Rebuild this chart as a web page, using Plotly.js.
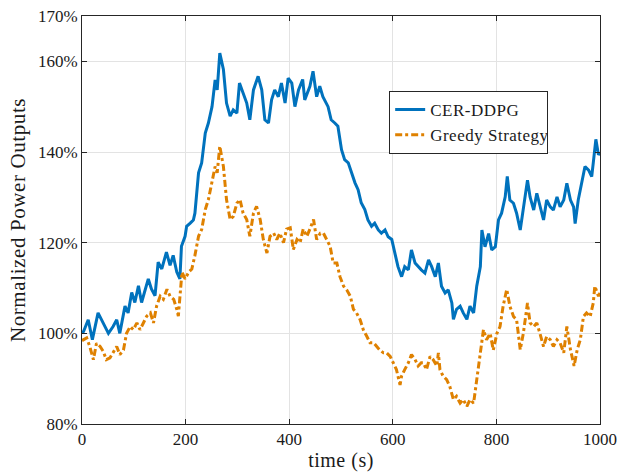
<!DOCTYPE html>
<html>
<head>
<meta charset="utf-8">
<script src="https://cdn.plot.ly/plotly-3.0.1.min.js"></script>
<style>
  html, body { margin: 0; padding: 0; background: #ffffff; }
  #chart { width: 620px; height: 474px; }
  #chart .ytitle { letter-spacing: 0.6px; }
  #chart .xtitle { letter-spacing: 0.5px; }
  #chart .legendtext { letter-spacing: 0.5px; }
</style>
</head>
<body>
<div id="chart"></div>
<script>
// Normalized power output (%) over time (s) for two control strategies.
const timeCer = [0,3,12,20,31,41,51,60,67,73,83,89,96,102,109,115,121,128,134,141,147,154,163,170,176,183,189,192,199,202,209,215,218,225,231,238,244,251,257,261,266,273,279,286,292,299,304,311,318,324,331,340,347,353,360,366,372,379,385,392,398,405,411,418,426,430,440,446,453,459,465,475,481,488,494,501,507,514,520,527,533,539,546,552,559,565,572,578,585,591,598,604,610,617,623,630,636,643,649,655,662,669,675,682,688,694,701,707,714,717,723,730,736,743,749,756,762,769,772,778,785,791,798,804,810,817,821,826,833,839,846,852,860,865,872,878,884,891,897,904,910,917,923,930,936,943,949,952,958,965,971,978,984,987,992,997,1000];
const cerDdpg = [100.2,100.4,103,98.6,104.5,102.3,100,101.5,103,100,106,104.5,109,106.8,110.5,106.8,109,112,109.8,108.3,115.7,114.2,117.9,115,117.2,113.5,112,119.2,121.4,123.6,124.3,125,126.5,135.4,137.6,144.2,146.4,150,155.9,153.7,161.8,158.2,150.8,147.9,149.3,148.6,155.2,153,150.8,147.1,153.7,156.7,153.7,147.1,146.4,151.5,153.7,152.2,155.2,150.8,156.3,155.2,150,153.7,156,151.5,154.5,157.8,152.2,154.5,152.2,150,147.1,146.4,145.7,140.5,138.3,137.6,135.4,133.2,131.7,128.8,127.3,125,123.6,124.3,122.8,122.1,122.8,121.3,120.7,117.7,114.7,112.5,114.7,114,118.4,115.5,114.7,114,113.3,116.2,114.7,112.5,115.5,110.4,108.9,109.6,106.7,103.1,105.3,106,104.5,103.1,106,104.5,110.4,114.7,122.8,119.1,122,118.4,119.1,125,126.5,130.1,134.6,129.4,128.7,126.5,122.8,127.9,133.8,130.1,127.2,130.9,127.9,125,129.4,127.9,127.2,130.1,127.9,129.4,133.1,129.4,127.9,124.2,129.4,133.8,136.8,136,134.6,137.6,142.8,139.4,139.8];

const timeGreedy = [0,3,9,15,22,28,35,41,47,54,60,67,73,80,86,93,99,106,112,119,125,132,138,144,151,157,164,170,177,183,186,193,199,206,212,218,225,231,238,244,251,257,261,266,273,279,286,292,299,305,311,318,324,331,337,344,350,357,363,370,376,382,389,395,402,408,415,421,427,434,440,447,453,460,466,472,479,485,492,498,505,511,518,524,530,537,543,550,556,563,569,575,582,588,595,601,607,614,617,623,630,636,643,649,655,659,665,672,678,685,688,691,697,704,710,717,723,730,736,743,749,756,762,769,775,781,788,794,801,807,813,820,826,833,839,846,852,860,865,872,878,884,891,897,904,910,917,923,930,936,943,950,956,962,968,974,981,987,990,997,1000];
const greedy = [98.4,98.6,99,97.1,94.2,97.8,97.1,96,94.2,94.6,95.7,97.1,95.3,96.3,100,101.5,100.8,102.3,100.8,102.3,103.8,104.5,102.3,106,108.2,107.5,109.7,108.2,107.5,105.3,103.8,113.5,112,113.5,114.2,117.2,121.4,122.9,127.3,129.5,133.2,136.8,135.4,141.3,136.8,129.5,125.1,125.8,128.7,129.5,126.5,125.1,121.4,126.5,128,125.1,120.7,117.7,121.4,122.1,120.7,122.1,120,123,123.3,118.5,120.7,120,123,121.4,123,125.1,120.7,122.1,122.1,120.7,119.2,115.5,115.5,112.5,110.4,109.6,108.2,105.3,104.5,103,100.8,99.3,97.9,97.9,97.1,96.3,95.7,95.7,94.9,93.5,92,88.6,90.6,92,93.5,95.3,94.2,92.8,93.5,93.5,92,94.9,94.2,92.8,95.7,92,90.6,89.8,88.3,85.4,86.1,84.6,85.4,83.9,85.4,84.6,89.8,95.7,100.8,98.6,100,96.3,100,101.5,106,109.7,106,103.7,103,96.4,100,106.7,102.3,101.5,102.3,100,97.1,99.3,98.6,97.1,98.6,97.9,95.7,101.5,96.4,92.8,96.4,98.6,103.7,104.5,103.7,106.7,110.4,108.2,108.9];

const seriesNames = ['CER-DDPG', 'Greedy Strategy'];
const xTicks = [0, 200, 400, 600, 800, 1000];
const yTicks = [80, 100, 120, 140, 160, 170];

const serif = "'Liberation Serif', 'Times New Roman', serif";
const ink = '#1a1a1a';

const traces = [
  {
    x: timeCer, y: cerDdpg, name: seriesNames[0],
    type: 'scatter', mode: 'lines',
    line: { color: '#0072BD', width: 3 }
  },
  {
    x: timeGreedy, y: greedy, name: seriesNames[1],
    type: 'scatter', mode: 'lines',
    line: { color: '#DF8100', width: 3, dash: '7px,3px,3px,3px' }
  }
];

const axisCommon = {
  showline: true, linecolor: '#262626', linewidth: 1,
  mirror: 'ticks', ticks: 'inside', ticklen: 5, tickcolor: '#262626',
  showgrid: true, gridcolor: '#e3e3e3', gridwidth: 1,
  zeroline: false,
  tickfont: { family: serif, size: 17, color: ink }
};

const layout = {
  width: 620, height: 474,
  margin: { l: 82, r: 20, t: 16, b: 50 },
  paper_bgcolor: '#ffffff', plot_bgcolor: '#ffffff',
  font: { family: serif, color: ink },
  showlegend: true,
  legend: {
    x: 0.593, y: 0.816, xanchor: 'left', yanchor: 'top',
    bgcolor: '#ffffff', bordercolor: '#262626', borderwidth: 1,
    font: { family: serif, size: 17, color: ink },
    tracegroupgap: 0
  },
  xaxis: Object.assign({}, axisCommon, {
    range: [0, 1000], tickvals: xTicks,
    title: { text: 'time (s)', font: { family: serif, size: 20, color: ink }, standoff: 4 }
  }),
  yaxis: Object.assign({}, axisCommon, {
    range: [80, 170], tickvals: yTicks,
    ticktext: yTicks.map(v => v + '%'),
    title: { text: 'Normalized Power Outputs', font: { family: serif, size: 21, color: ink }, standoff: 6 }
  })
};

Plotly.newPlot('chart', traces, layout, { displayModeBar: false, staticPlot: true });
</script>
</body>
</html>
